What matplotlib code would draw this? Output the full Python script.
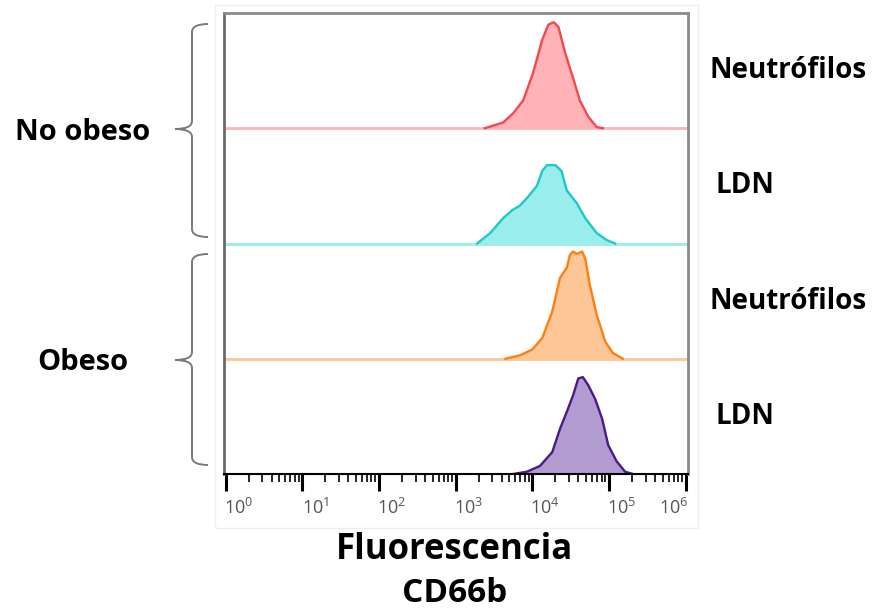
import numpy as np
import matplotlib.pyplot as plt
import matplotlib.transforms as mtransforms
from matplotlib.path import Path
from matplotlib.patches import PathPatch, Rectangle

plt.rcParams['font.family'] = ['Open Sans', 'DejaVu Sans']
plt.rcParams['mathtext.fontset'] = 'custom'
plt.rcParams['mathtext.rm'] = 'Liberation Sans'

# histogramas CD66b: posicao em log10(fluorescencia) e altura relativa
neu_no_x = [3.38, 3.62, 3.75, 3.88, 4.01, 4.13, 4.21, 4.28, 4.34, 4.43, 4.53, 4.62, 4.73, 4.84, 4.92]
neu_no_y = [0.0, 0.05, 0.13, 0.24, 0.48, 0.77, 0.90, 0.92, 0.88, 0.65, 0.44, 0.24, 0.10, 0.01, 0.0]

ldn_no_x = [3.28, 3.45, 3.62, 3.74, 3.84, 3.95, 4.06, 4.13, 4.19, 4.30, 4.38, 4.45, 4.58, 4.69, 4.84, 4.97, 5.08]
ldn_no_y = [0.0, 0.09, 0.22, 0.29, 0.33, 0.41, 0.50, 0.63, 0.68, 0.68, 0.63, 0.46, 0.35, 0.22, 0.09, 0.03, 0.0]

neu_ob_x = [3.65, 3.84, 4.00, 4.13, 4.26, 4.36, 4.45, 4.49, 4.53, 4.58, 4.65, 4.69, 4.75, 4.84, 4.95, 5.05, 5.18]
neu_ob_y = [0.0, 0.03, 0.08, 0.18, 0.41, 0.70, 0.79, 0.90, 0.93, 0.91, 0.93, 0.87, 0.64, 0.38, 0.15, 0.05, 0.0]

ldn_ob_x = [3.75, 3.93, 4.10, 4.26, 4.36, 4.45, 4.53, 4.60, 4.66, 4.73, 4.82, 4.91, 4.99, 5.10, 5.21, 5.31]
ldn_ob_y = [0.0, 0.02, 0.07, 0.19, 0.39, 0.54, 0.68, 0.83, 0.84, 0.77, 0.65, 0.48, 0.25, 0.11, 0.02, 0.0]

series = [
    (neu_no_x, neu_no_y, '#f5474c', '#ffb3b6', 3),
    (ldn_no_x, ldn_no_y, '#1ec8c8', '#9aeded', 2),
    (neu_ob_x, neu_ob_y, '#ff7f0e', '#fdc696', 1),
    (ldn_ob_x, ldn_ob_y, '#4a1a88', '#b19bd0', 0),
]
row_labels = ['Neutrófilos', 'LDN', 'Neutrófilos', 'LDN']
tick_exp = [0, 1, 2, 3, 4, 5, 6]

fig = plt.figure(figsize=(8.81, 6.14), dpi=100)
ax = fig.add_axes([224/881, 140/614, 464/881, 461/614])

xmin, xmax = -0.02, 6.03
for lx, ly, lc, fc, off in series:
    lx = np.array(lx)
    ly = np.array(ly) + off
    ax.axhline(off, color=fc, lw=2, zorder=2)
    ax.fill_between(10**lx, off, ly, color=fc, lw=0)
    ax.plot(10**lx, ly, color=lc, lw=1.7, zorder=3, solid_joinstyle='round')

ax.set_xscale('log')
ax.set_xlim(10**xmin, 10**xmax)
ax.set_ylim(0, 4)
ax.set_yticks([])

ax.set_xticks([10.0**e for e in tick_exp])
ax.set_xticklabels([r'$\mathregular{10^{%d}}$' % e for e in tick_exp], color='#555555', fontsize=13)
ax.tick_params(axis='x', which='major', length=12, width=2.2, direction='out', pad=5, color='black')
ax.tick_params(axis='x', which='minor', length=6, width=1.2, direction='out', color='black')
for i, lab in enumerate(ax.get_xticklabels()):
    dx = 13 if i < 6 else -12
    lab.set_transform(lab.get_transform() + mtransforms.ScaledTranslation(dx/100, 0, fig.dpi_scale_trans))

for side in ['top', 'right']:
    ax.spines[side].set_color('#8a8a8a')
    ax.spines[side].set_linewidth(2)
ax.spines['left'].set_color('#6a6a6a')
ax.spines['left'].set_linewidth(2)
ax.spines['bottom'].set_color('black')
ax.spines['bottom'].set_linewidth(1.5)
ax.spines['bottom'].set_zorder(4)

# marco cinza claro em volta do grafico
fig.patches.append(Rectangle((215/881, 86/614), 483/881, 523/614, transform=fig.transFigure,
                             fill=False, edgecolor='#eeeeee', lw=1))

# rotulos das linhas, centrados em cada faixa
lab_tr = mtransforms.blended_transform_factory(fig.transFigure, ax.transData)
for i, txt in enumerate(row_labels):
    fig.text(710/881 + (0 if i % 2 == 0 else 5/881), 3.5 - i, txt, fontsize=20, fontweight='bold',
             va='center', transform=lab_tr)


def chave(ytop, ybot, ymid, xl=175, xv=192, xr=208):
    # chave "{" em pixels da figura
    H = 614
    verts = [(xr, ytop), (xv, ytop), (xv, ytop + 8), (xv, ymid - 8), (xv, ymid), (xl, ymid),
             (xv, ymid), (xv, ymid + 8), (xv, ybot - 8), (xv, ybot), (xr, ybot)]
    codes = [Path.MOVETO, Path.CURVE3, Path.CURVE3, Path.LINETO, Path.CURVE3, Path.CURVE3,
             Path.CURVE3, Path.CURVE3, Path.LINETO, Path.CURVE3, Path.CURVE3]
    verts = [(x/881, (H - y)/614) for x, y in verts]
    fig.patches.append(PathPatch(Path(verts, codes), transform=fig.transFigure,
                                 fill=False, edgecolor='#7a7a7a', lw=1.4))


chave(24, 237, 129)
chave(254, 465, 360)

fig.text(83/881, 1 - 132/614, 'No obeso', fontsize=21, fontweight='bold', ha='center', va='center')
fig.text(83/881, 1 - 362/614, 'Obeso', fontsize=21, fontweight='bold', ha='center', va='center')

fig.text(455/881, 1 - 550/614, 'Fluorescencia', fontsize=25, fontweight='bold', ha='center', va='center')
fig.text(455/881, 1 - 594/614, 'CD66b', fontsize=24, fontweight='bold', ha='center', va='center')

fig.savefig('out.png', dpi=100)
